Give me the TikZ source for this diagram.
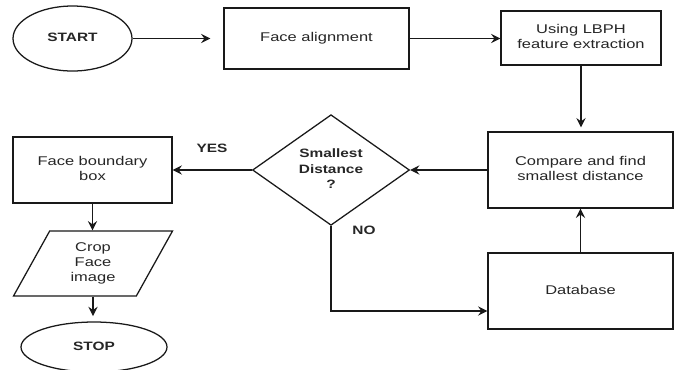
\documentclass[tikz,border=0pt]{standalone}
\usepackage{fontspec}
\setmainfont{Liberation Sans}
\usepackage{graphicx}
\usetikzlibrary{shapes.geometric,arrows.meta}
\newcommand{\reg}[1]{\fontsize{9.5pt}{11.25pt}\selectfont\scalebox{1.3}[1]{\begin{tabular}{@{}c@{}}#1\end{tabular}}}
\newcommand{\bld}[1]{\fontsize{9.1pt}{11.6pt}\selectfont\bfseries\scalebox{1.27}[1]{\begin{tabular}{@{}c@{}}#1\end{tabular}}}
\begin{document}
\begin{tikzpicture}[x=0.75pt,y=-0.75pt,
  shp/.style={draw=black!90, line width=0.95pt, inner sep=0pt, text=black!85},
  box/.style={shp, rectangle},
  ov/.style={shp, ellipse},
  dec/.style={shp, diamond},
  io/.style={shp, trapezium, trapezium left angle=67.4, trapezium right angle=112.6, trapezium stretches=true},
  arr/.style={draw=black!90, line width=0.95pt, -{Stealth[length=7pt,width=7pt,inset=2.5pt]}},
  lbl/.style={inner sep=0pt, text=black!85}]
\useasboundingbox (0,0) rectangle (680,369);
\node[ov, minimum width=89.25pt, minimum height=48.75pt] (start) at (72.5,38.5) {\bld{START}};
\node[box, minimum width=138.75pt, minimum height=45.75pt] (align) at (316.5,38.5) {\reg{Face alignment}};
\node[box, minimum width=120pt, minimum height=40.5pt] (lbph) at (581,38) {\reg{Using LBPH\\feature extraction}};
\node[box, minimum width=138.75pt, minimum height=57pt] (compare) at (580.5,170) {\reg{Compare and find\\smallest distance}};
\node[box, minimum width=138.75pt, minimum height=57pt] (db) at (580.5,291) {\reg{Database}};
\node[dec, minimum width=117.75pt, minimum height=72pt] (dia) at (331,170) {\bld{Smallest\\Distance\\?}};
\node[box, minimum width=119.25pt, minimum height=49.5pt] (boundary) at (92.5,170) {\reg{Face boundary\\box}};
\node[io, minimum width=120pt, minimum height=48.75pt] (crop) at (93,263.5) {\reg{Crop\\Face\\image}};
\node[ov, minimum width=109.5pt, minimum height=37.5pt] (stop) at (94,347) {\bld{STOP}};
\node[lbl] (yes) at (212,149) {\bld{YES}};
\node[lbl] (no) at (364,231) {\bld{NO}};
\draw[arr, shorten >=9.75pt] (start.east) -- (start.east -| align.west);
\draw[arr] (align.east) -- (align.east -| lbph.west);
\draw[arr, shorten >=3pt] (lbph.south) -- (lbph.south |- compare.north);
\draw[arr] (db.north) -- (compare.south);
\draw[arr] (compare.west) -- (dia.east);
\draw[arr] (dia.west) -- (dia.west -| boundary.east);
\draw[arr] (dia.south) |- ([yshift=-15pt]db.west);
\draw[arr] (boundary.south) -- (boundary.south |- crop.north);
\draw[arr, shorten >=4pt] (crop.south) -- (crop.south |- stop.north);
\end{tikzpicture}
\end{document}
